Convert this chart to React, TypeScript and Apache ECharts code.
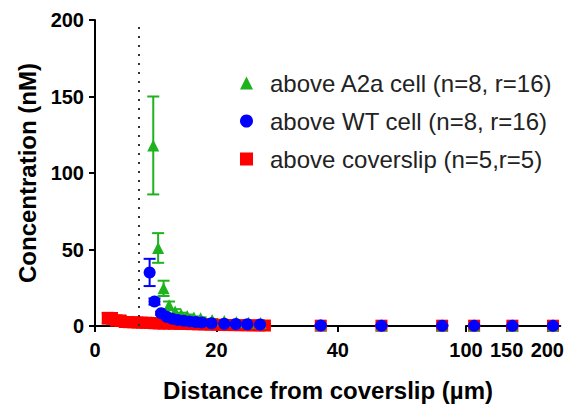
import React, { useEffect, useRef } from "react";
import * as echarts from "echarts";

const A2A_NAME = "above A2a cell (n=8, r=16)";
const WT_NAME = "above WT cell (n=8, r=16)";
const CS_NAME = "above coverslip (n=5,r=5)";

// distance from coverslip (µm)
const a2aX = [9.6, 10.4, 11.3, 12.2, 13.2, 14.2, 15.2, 16.3, 17.4, 19.3, 21.3, 23.3, 25.3, 27.3, 37.2, 47.2, 57.2, 110, 157, 207];
const a2aY = [118, 51, 24.6, 13.5, 9.5, 7.5, 6.5, 5.5, 5, 4, 3.2, 2.6, 2.2, 2, 0.6, 0.5, 0.4, 0.4, 0.3, 0.3];
const a2aErr = [32, 9.7, 5, 2.5, 1.5, 1.2, 1, 0.8, 0.7, 0.6, 0.5, 0.4, 0.4, 0.3, 0.2, 0.2, 0.2, 0.2, 0.2, 0.2];

const wtX = [9.0, 9.8, 10.9, 11.8, 12.7, 13.6, 14.6, 15.6, 16.6, 17.6, 19.2, 21.3, 23.2, 25.1, 27.2, 37.2, 47.2, 57.2, 110, 157, 207];
const wtY = [35, 16, 8.3, 6, 4.8, 4, 3.4, 3, 2.6, 2.3, 1.8, 1.5, 1.3, 1.1, 1, 0.3, 0.2, 0.2, 0.1, 0.1, 0.1];
const wtErr = [8.9, 2, 1, 0.8, 0.6, 0.5, 0.4, 0.4, 0.3, 0.3, 0.3, 0.2, 0.2, 0.2, 0.2, 0.1, 0.1, 0.1, 0.1, 0.1, 0.1];

const csX = [2.1, 2.8, 3.5, 4.2, 4.9, 5.6, 6.3, 7.0, 7.7, 8.4, 9.1, 9.8, 10.5, 11.3, 12.1, 13, 14, 15, 16, 17, 18, 19, 20, 21, 22, 23, 24, 25, 26, 27, 28, 37.2, 47.2, 57.2, 110, 157, 207];
const csY = [5.1, 5.0, 3.6, 3.5, 2.6, 2.5, 2.4, 2.3, 2.2, 2.1, 2.0, 1.8, 1.7, 1.6, 1.6, 1.5, 1.4, 1.3, 1.2, 1.1, 1.0, 0.9, 0.8, 0.7, 0.6, 0.6, 0.5, 0.5, 0.4, 0.4, 0.3, 0.2, 0.2, 0.2, 0.2, 0.2, 0.2];
const csErr = [3.5, 3.5, 3.2, 3.2, 2.8, 2.7, 2.6, 2.5, 2.4, 2.3, 2.2, 2.1, 2.0, 1.9, 1.8, 1.7, 1.6, 1.5, 1.4, 1.3, 1.2, 1.1, 1.0, 1.0, 0.9, 0.9, 0.8, 0.8, 0.7, 0.7, 0.6, 0.3, 0.3, 0.3, 0.3, 0.3, 0.3];

const nearTicks = [0, 20, 40];
const farTicks = [100, 150, 200];
const dottedLineX = 7.2;

const FONT = "'Liberation Sans', Arial, sans-serif";
const GREEN = "#1fb21f";
const BLUE = "#0000ff";
const RED = "#ff0000";

function points(xs: number[], ys: number[], es: number[], far: boolean) {
  return xs
    .map((x, i) => [x, ys[i], es[i]])
    .filter((p) => (far ? p[0] >= 100 : p[0] < 100));
}

function errorSeries(data: number[][], color: string, gi: number) {
  return {
    type: "custom",
    name: "err",
    xAxisIndex: gi,
    yAxisIndex: gi,
    encode: { x: 0, y: 1 },
    data,
    z: 2,
    silent: true,
    renderItem: (params: any, api: any) => {
      const x = api.value(0);
      const y = api.value(1);
      const e = api.value(2);
      const top = api.coord([x, y + e]);
      const bot = api.coord([x, y - e]);
      const hw = 6;
      const style = { stroke: color, lineWidth: 2, fill: "none" };
      return {
        type: "group",
        children: [
          { type: "line", shape: { x1: top[0], y1: top[1], x2: bot[0], y2: bot[1] }, style },
          { type: "line", shape: { x1: top[0] - hw, y1: top[1], x2: top[0] + hw, y2: top[1] }, style },
          { type: "line", shape: { x1: bot[0] - hw, y1: bot[1], x2: bot[0] + hw, y2: bot[1] }, style },
        ],
      };
    },
  };
}

function scatterSeries(name: string, data: number[][], color: string, symbol: string, gi: number) {
  return {
    type: "scatter",
    name,
    xAxisIndex: gi,
    yAxisIndex: gi,
    data: data.map((p) => [p[0], p[1]]),
    symbol,
    symbolSize: 12,
    clip: false,
    z: 3,
    itemStyle: { color, opacity: 1 },
  };
}

export default function App() {
  const ref = useRef<HTMLDivElement>(null);

  useEffect(() => {
    if (!ref.current) return;
    const chart = echarts.init(ref.current, null, { renderer: "svg" });

    const axisLine = { show: true, onZero: false, lineStyle: { color: "#000", width: 2 } };
    const axisTick = { show: true, length: 6, lineStyle: { color: "#000", width: 2 } };
    const axisLabelBase = { fontSize: 20, fontWeight: "bold", color: "#000", fontFamily: FONT };

    const series: any[] = [];
    const groups = [
      { name: CS_NAME, xs: csX, ys: csY, es: csErr, color: RED, symbol: "rect" },
      { name: A2A_NAME, xs: a2aX, ys: a2aY, es: a2aErr, color: GREEN, symbol: "triangle" },
      { name: WT_NAME, xs: wtX, ys: wtY, es: wtErr, color: BLUE, symbol: "circle" },
    ];
    // dotted marker line
    series.push({
      type: "scatter",
      name: "marker",
      xAxisIndex: 0,
      yAxisIndex: 0,
      data: [],
      z: 1,
      markLine: {
        silent: true,
        symbol: "none",
        label: { show: false },
        lineStyle: { color: "#333", width: 2, type: [2, 7] },
        data: [[{ coord: [dottedLineX, 0] }, { coord: [dottedLineX, 200] }]],
      },
    });
    groups.forEach((g) => {
      [0, 1].forEach((gi) => {
        const d = points(g.xs, g.ys, g.es, gi === 1);
        series.push(errorSeries(d, g.color, gi));
        series.push(scatterSeries(g.name, d, g.color, g.symbol, gi));
      });
    });

    chart.setOption({
      animation: false,
      backgroundColor: "#fff",
      grid: [
        { left: 95, top: 20, width: 352, height: 306 },
        { left: 466, top: 20, width: 95, height: 306 },
      ],
      xAxis: [
        {
          type: "value",
          gridIndex: 0,
          min: 0,
          max: 58,
          interval: 20,
          axisLine,
          axisTick: { ...axisTick, customValues: nearTicks },
          axisLabel: { ...axisLabelBase, margin: 14, customValues: nearTicks },
          splitLine: { show: false },
        },
        {
          type: "value",
          gridIndex: 1,
          min: 100,
          max: 216,
          interval: 50,
          axisLine,
          axisTick: { ...axisTick, customValues: farTicks },
          axisLabel: { ...axisLabelBase, margin: 14, customValues: farTicks },
          splitLine: { show: false },
        },
      ],
      yAxis: [
        {
          type: "value",
          gridIndex: 0,
          min: 0,
          max: 200,
          interval: 50,
          axisLine,
          axisTick,
          axisLabel: { ...axisLabelBase, margin: 11 },
          splitLine: { show: false },
          name: "Concentration (nM)",
          nameLocation: "middle",
          nameGap: 52,
          nameTextStyle: { fontSize: 24, fontWeight: "bold", color: "#000", fontFamily: FONT },
        },
        {
          type: "value",
          gridIndex: 1,
          min: 0,
          max: 200,
          interval: 50,
          show: false,
        },
      ],
      legend: {
        orient: "vertical",
        left: 240,
        top: 71,
        padding: 0,
        itemWidth: 13,
        itemHeight: 13,
        itemGap: 14,
        selectedMode: false,
        data: [A2A_NAME, WT_NAME, CS_NAME],
        textStyle: {
          fontSize: 24,
          lineHeight: 24,
          color: "#222",
          fontFamily: FONT,
          padding: [0, 0, 0, 12],
        },
      },
      graphic: [
        {
          type: "text",
          x: 328,
          y: 390,
          style: {
            text: "Distance from coverslip (µm)",
            font: `bold 24px ${FONT}`,
            fill: "#000",
            textAlign: "center",
            textVerticalAlign: "middle",
          },
        },
      ],
      series,
    });

    return () => chart.dispose();
  }, []);

  return <div ref={ref} style={{ width: 567, height: 408, position: "absolute", left: 0, top: 0 }} />;
}
